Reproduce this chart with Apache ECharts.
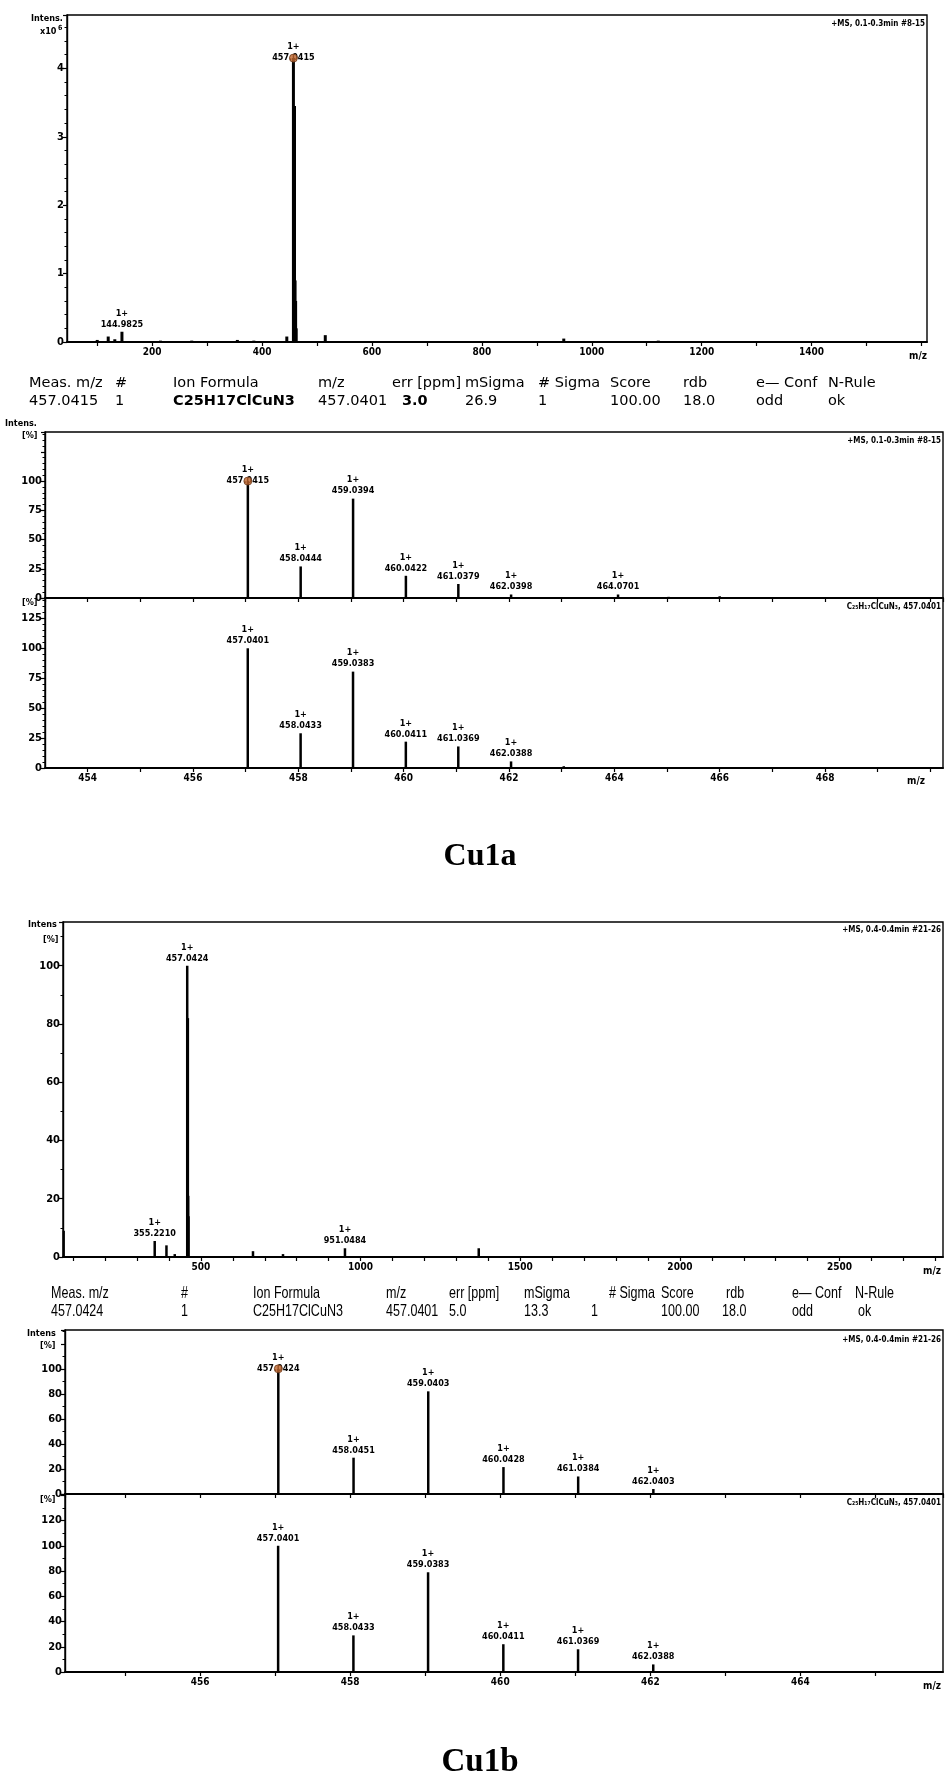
<!DOCTYPE html>
<html><head><meta charset="utf-8">
<script src="https://cdn.jsdelivr.net/npm/echarts@6/dist/echarts.min.js"></script>
<style>html,body{margin:0;padding:0;background:#fff}#c{width:945px;height:1779px}</style>
</head><body><div id="c"></div>
<script>
// ================= DATA =================
// Panel 1: Cu1a full-scan (intensity in units of 10^6)
const cu1aSurveyMz  = [100, 120, 132, 144.9825, 215, 272, 355, 385, 445, 457.0415, 458.04, 459.04, 460.04, 461.04, 462.04, 515, 949, 1121];
const cu1aSurveyInt = [0.03, 0.08, 0.04, 0.15, 0.02, 0.02, 0.03, 0.02, 0.08, 4.15, 1.3, 3.45, 0.9, 0.6, 0.2, 0.1, 0.05, 0.02];
const cu1aSurveyLab = ['', '', '', '144.9825', '', '', '', '', '', '457.0415', '', '', '', '', '', '', '', ''];

// Panel 2: Cu1a measured isotope pattern (%)
const cu1aExpMz  = [457.0415, 458.0444, 459.0394, 460.0422, 461.0379, 462.0398, 464.0701, 465.03, 466.0];
const cu1aExpInt = [100, 27, 85, 19, 12, 3, 3, 1, 1.5];
const cu1aExpLab = ['457.0415', '458.0444', '459.0394', '460.0422', '461.0379', '462.0398', '464.0701', '', ''];

// Panel 3: Cu1a simulated isotope pattern (%)
const cu1aSimMz  = [457.0401, 458.0433, 459.0383, 460.0411, 461.0369, 462.0388, 463.04];
const cu1aSimInt = [100, 29, 80.5, 22, 18, 5.5, 1.5];
const cu1aSimLab = ['457.0401', '458.0433', '459.0383', '460.0411', '461.0369', '462.0388', ''];

// Panel 4: Cu1b full-scan (%)
const cu1bSurveyMz  = [70, 355.2210, 392, 418, 457.0424, 458.04, 459.04, 460.04, 461.04, 663, 757, 951.0484, 1370];
const cu1bSurveyInt = [9, 5.5, 4, 1, 100, 28, 82, 21, 14, 2, 1, 3, 3];
const cu1bSurveyLab = ['', '355.2210', '', '', '457.0424', '', '', '', '', '', '', '951.0484', ''];

// Panel 5: Cu1b measured isotope pattern (%)
const cu1bExpMz  = [457.0424, 458.0451, 459.0403, 460.0428, 461.0384, 462.0403, 463.04, 464.04];
const cu1bExpInt = [100, 29, 82, 21.5, 14, 4, 0.6, 0.6];
const cu1bExpLab = ['457.0424', '458.0451', '459.0403', '460.0428', '461.0384', '462.0403', '', ''];

// Panel 6: Cu1b simulated isotope pattern (%)
const cu1bSimMz  = [457.0401, 458.0433, 459.0383, 460.0411, 461.0369, 462.0388];
const cu1bSimInt = [100, 29, 79, 22, 18, 6];
const cu1bSimLab = ['457.0401', '458.0433', '459.0383', '460.0411', '461.0369', '462.0388'];

// Table rows
const table1Head = ['Meas. m/z', '#', 'Ion Formula', 'm/z', 'err [ppm]', 'mSigma', '# Sigma', 'Score', 'rdb', 'e\u2014 Conf', 'N-Rule'];
const table1Vals = ['457.0415', '1', 'C25H17ClCuN3', '457.0401', '3.0', '26.9', '1', '100.00', '18.0', 'odd', 'ok'];
const table2Head = ['Meas. m/z', '#', 'Ion Formula', 'm/z', 'err [ppm]', 'mSigma', '# Sigma', 'Score', 'rdb', 'e\u2014 Conf', 'N-Rule'];
const table2Vals = ['457.0424', '1', 'C25H17ClCuN3', '457.0401', '5.0', '13.3', '1', '100.00', '18.0', 'odd', 'ok'];

// ================= CHART =================
const FC = "'DejaVu Sans Condensed','Liberation Sans Narrow',sans-serif";
const FT = "'DejaVu Sans',Verdana,sans-serif";
const FN = "'Liberation Sans',Arial,sans-serif";

const panels = [
  {mz: cu1aSurveyMz, it: cu1aSurveyInt, lab: cu1aSurveyLab, grid:{left:67, top:15, width:860, height:327},
   xmin:45, xmax:1610, xsplit:16, xstep:200, xmaxLabel:1400, xlabels:true, ymax:4.78, yint:1, ymaxLabel:4, minor:5, bw:3, dot:true},
  {mz: cu1aExpMz, it: cu1aExpInt, lab: cu1aExpLab, grid:{left:45, top:432, width:898, height:166},
   xmin:453.19, xmax:470.24, xsplit:17, xstep:2, xmaxLabel:468, xlabels:false, ymax:142, yint:25, ymaxLabel:100, minor:5, bw:2.5, dot:true},
  {mz: cu1aSimMz, it: cu1aSimInt, lab: cu1aSimLab, grid:{left:45, top:598, width:898, height:170},
   xmin:453.19, xmax:470.24, xsplit:17, xstep:2, xmaxLabel:468, xlabels:true, ymax:142, yint:25, ymaxLabel:125, minor:5, bw:2.5, dot:false},
  {mz: cu1bSurveyMz, it: cu1bSurveyInt, lab: cu1bSurveyLab, grid:{left:63, top:922, width:880, height:335},
   xmin:68, xmax:2824, xsplit:28, xstep:500, xmaxLabel:2500, xlabels:true, ymax:115, yint:20, ymaxLabel:100, minor:2, bw:2.5, dot:false},
  {mz: cu1bExpMz, it: cu1bExpInt, lab: cu1bExpLab, grid:{left:65, top:1330, width:878, height:164},
   xmin:454.2, xmax:465.9, xsplit:12, xstep:2, xmaxLabel:464, xlabels:false, ymax:131, yint:20, ymaxLabel:100, minor:2, bw:2.5, dot:true},
  {mz: cu1bSimMz, it: cu1bSimInt, lab: cu1bSimLab, grid:{left:65, top:1494, width:878, height:178},
   xmin:454.2, xmax:465.9, xsplit:12, xstep:2, xmaxLabel:464, xlabels:true, ymax:141, yint:20, ymaxLabel:120, minor:2, bw:2.5, dot:false}
];

const isMult = (v, s) => Math.abs(v / s - Math.round(v / s)) < 1e-6;

const grids = [], xAxes = [], yAxes = [], series = [];
panels.forEach((p, i) => {
  grids.push(Object.assign({show:true, borderColor:'#000', borderWidth:1.4, backgroundColor:'transparent'}, p.grid));
  xAxes.push({type:'value', gridIndex:i, min:p.xmin, max:p.xmax, splitNumber:p.xsplit,
    axisLine:{show:true, onZero:false, lineStyle:{color:'#000', width:1.8}},
    axisTick:{show:true, inside:false, length:4, lineStyle:{color:'#000', width:1.2}},
    axisLabel:{show:p.xlabels, color:'#000', fontFamily:FC, fontWeight:'bold', fontSize:10, margin:5,
      showMinLabel:false, showMaxLabel:false,
      formatter: v => (isMult(v, p.xstep) && v <= p.xmaxLabel + 1e-9) ? String(Math.round(v)) : ''},
    splitLine:{show:false}});
  yAxes.push({type:'value', gridIndex:i, min:0, max:p.ymax, interval:p.yint,
    axisLine:{show:true, lineStyle:{color:'#000', width:1.4}},
    axisTick:{show:true, inside:false, length:4, lineStyle:{color:'#000', width:1.2}},
    minorTick:{show:true, splitNumber:p.minor, length:2.5, lineStyle:{color:'#000', width:1}},
    axisLabel:{color:'#000', fontFamily:FC, fontWeight:'bold', fontSize:11, margin:3, showMaxLabel:false,
      formatter: v => (isMult(v, p.yint) && v <= p.ymaxLabel + 1e-9) ? String(Math.round(v)) : ''},
    splitLine:{show:false}});
  let top = 0; p.it.forEach((v, k) => { if (v > p.it[top]) top = k; });
  series.push({type:'bar', xAxisIndex:i, yAxisIndex:i, barWidth:p.bw, silent:true, animation:false,
    itemStyle:{color:'#000'},
    data: p.mz.map((x, k) => {
      const d = {value:[x, p.it[k]]};
      if (p.lab[k]) d.label = {show:true, position:'top', distance:(p.dot && k === top) ? -5 : 2,
        formatter:'1+\n' + p.lab[k],
        color:'#000', fontFamily:FC, fontWeight:'bold', fontSize:9, lineHeight:11, align:'center'};
      return d;
    })});
  if (p.dot) {
    series.push({type:'scatter', xAxisIndex:i, yAxisIndex:i, symbol:'circle', symbolSize:8, silent:true, animation:false,
      z:5, itemStyle:{color:'#c0662e', borderColor:'#6b3a1a', borderWidth:1},
      data:[[p.mz[top], p.it[top]]]});
  }
});

// text graphics
const g = [];
function txt(text, x, y, font, opt, extra) {
  g.push(Object.assign({type:'text', x, y, silent:true,
    style:Object.assign({text, font, fill:'#000', align:'left', verticalAlign:'middle'}, opt || {})}, extra || {}));
}
const sm = "bold 9px " + FC;
// panel 1
txt('Intens.', 31, 19, sm); txt('x10', 40, 32, sm); txt('6', 58, 28, "bold 7px " + FC);
txt('+MS, 0.1-0.3min #8-15', 925, 24, "bold 8px " + FC, {align:'right'});
txt('m/z', 927, 356, "bold 10px " + FC, {align:'right'});
// table 1
const t1x = [29, 115, 173, 318, 392, 465, 538, 610, 683, 756, 828];
const t1vx = [29, 115, 173, 318, 402, 465, 538, 610, 683, 756, 828];
table1Head.forEach((s, k) => txt(s, t1x[k], 383, "14.5px " + FT));
table1Vals.forEach((s, k) => txt(s, t1vx[k], 401, ((k === 2 || k === 4) ? "bold " : "") + "14.5px " + FT));
// panel 2/3
txt('Intens.', 5, 424, sm); txt('[%]', 22, 436, sm);
txt('+MS, 0.1-0.3min #8-15', 941, 441, "bold 8px " + FC, {align:'right'});
txt('[%]', 22, 603, sm);
txt('C\u2082\u2085H\u2081\u2087ClCuN\u2083, 457.0401', 941, 607, "bold 8px " + FC, {align:'right'});
txt('m/z', 925, 781, "bold 10px " + FC, {align:'right'});
txt('Cu1a', 480, 857, "bold 32px 'Liberation Serif','Times New Roman',serif", {align:'center'});
// panel 4
txt('Intens', 28, 925, sm); txt('[%]', 43, 940, sm);
txt('+MS, 0.4-0.4min #21-26', 941, 930, "bold 8px " + FC, {align:'right'});
txt('m/z', 941, 1271, "bold 10px " + FC, {align:'right'});
// table 2 (narrow type, emulated with horizontal scaling)
const t2x = [51, 181, 253, 386, 449, 524, 609, 661, 726, 792, 855];
const t2vx = [51, 181, 253, 386, 449, 524, 591, 661, 722, 792, 858];
table2Head.forEach((s, k) => txt(s, t2x[k], 1293, "16.5px " + FN, null, {scaleX:0.76}));
table2Vals.forEach((s, k) => txt(s, t2vx[k], 1311, "16.5px " + FN, null, {scaleX:0.76}));
// panel 5/6
txt('Intens', 27, 1334, sm); txt('[%]', 40, 1346, sm);
txt('+MS, 0.4-0.4min #21-26', 941, 1340, "bold 8px " + FC, {align:'right'});
txt('[%]', 40, 1500, sm);
txt('C\u2082\u2085H\u2081\u2087ClCuN\u2083, 457.0401', 941, 1503, "bold 8px " + FC, {align:'right'});
txt('m/z', 941, 1686, "bold 10px " + FC, {align:'right'});
txt('Cu1b', 480, 1762, "bold 33px 'Liberation Serif','Times New Roman',serif", {align:'center'});

const chart = echarts.init(document.getElementById('c'), null, {renderer:'canvas'});
chart.setOption({backgroundColor:'#fff', animation:false, grid:grids, xAxis:xAxes, yAxis:yAxes, series, graphic:g});
</script></body></html>
